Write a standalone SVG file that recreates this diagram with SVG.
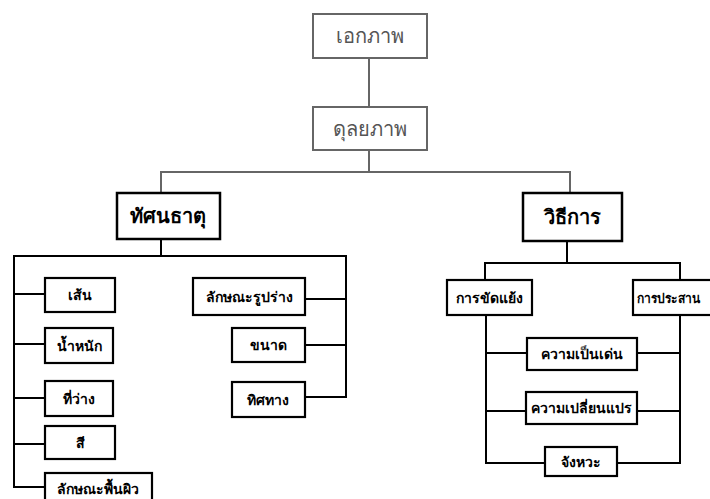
<svg xmlns="http://www.w3.org/2000/svg" width="710" height="499" viewBox="0 0 710 499">
<style>
.top rect{fill:#fff;stroke:#666;stroke-width:2}
.top text{font-family:"Noto Sans",sans-serif;font-size:20px;fill:#555;text-anchor:middle}
.mid rect{fill:#fff;stroke:#000;stroke-width:2.5}
.mid text{font-family:"Noto Sans",sans-serif;font-size:20px;font-weight:bold;fill:#000;text-anchor:middle}
.leaf rect{fill:#fff;stroke:#000;stroke-width:2.2}
.leaf text{font-family:"Noto Sans",sans-serif;font-size:14px;font-weight:bold;fill:#000;text-anchor:middle}
.conn line,.conn polyline{stroke:#000;stroke-width:2;fill:none}
.conn .grey{stroke:#666}
</style>
<rect width="710" height="499" fill="#fff"/>
<g class="conn">
<line class="grey" x1="369" y1="58" x2="369" y2="107"/>
<line class="grey" x1="369" y1="150" x2="369" y2="172"/>
<polyline class="grey" points="161,193 161,172 570,172 570,193"/>
<line x1="161" y1="239" x2="161" y2="256"/>
<polyline points="45,294 14,294 14,256 346,256 346,397 305,397"/>
<polyline points="14,294 14,487 45,487"/>
<line x1="14" y1="344" x2="45" y2="344"/>
<line x1="14" y1="398" x2="45" y2="398"/>
<line x1="14" y1="444" x2="45" y2="444"/>
<line x1="305" y1="299" x2="346" y2="299"/>
<line x1="305" y1="345" x2="346" y2="345"/>
<line x1="567" y1="241" x2="567" y2="263"/>
<polyline points="485,280 485,263 680,263 680,280"/>
<polyline points="486,315 486,463 545,463"/>
<polyline points="680,315 680,463 617,463"/>
<line x1="486" y1="353" x2="527" y2="353"/>
<line x1="637" y1="353" x2="680" y2="353"/>
<line x1="486" y1="411" x2="526" y2="411"/>
<line x1="637" y1="411" x2="680" y2="411"/>
</g>
<g id="n-ekkaphap" class="top"><rect x="313" y="14" width="114" height="44"/><text x="370" y="43">เอกภาพ</text></g>
<g id="n-dulyaphap" class="top"><rect x="313" y="107" width="114" height="43"/><text x="370" y="136">ดุลยภาพ</text></g>
<g id="n-thatsanathat" class="mid"><rect x="117" y="193" width="103" height="46"/><text x="168" y="223">ทัศนธาตุ</text></g>
<g id="n-withikan" class="mid"><rect x="523" y="193" width="99" height="48"/><text x="572" y="224">วิธีการ</text></g>
<g id="n-sen" class="leaf"><rect x="45" y="278" width="70" height="34"/><text x="80" y="300">เส้น</text></g>
<g id="n-namnak" class="leaf"><rect x="45" y="328" width="68" height="35"/><text x="79" y="351">น้ำหนัก</text></g>
<g id="n-thiwang" class="leaf"><rect x="45" y="381" width="68" height="35"/><text x="79" y="404">ที่ว่าง</text></g>
<g id="n-si" class="leaf"><rect x="45" y="426" width="70" height="33"/><text x="80" y="448">สี</text></g>
<g id="n-phiw" class="leaf"><rect x="45" y="473" width="107" height="30"/><text x="98" y="494">ลักษณะพื้นผิว</text></g>
<g id="n-rupsang" class="leaf"><rect x="193" y="278" width="112" height="37"/><text x="249" y="302">ลักษณะรูปร่าง</text></g>
<g id="n-khanat" class="leaf"><rect x="232" y="328" width="73" height="34"/><text x="268" y="350">ขนาด</text></g>
<g id="n-thitthang" class="leaf"><rect x="232" y="382" width="73" height="35"/><text x="268" y="405">ทิศทาง</text></g>
<g id="n-khatyaeng" class="leaf"><rect x="447" y="280" width="85" height="35"/><text x="489" y="303">การขัดแย้ง</text></g>
<g id="n-prasan" class="leaf"><rect x="633" y="280" width="90" height="35"/><text x="637" y="303" style="text-anchor:start;font-size:13px" textLength="63" lengthAdjust="spacingAndGlyphs">การประสาน</text></g>
<g id="n-pendon" class="leaf"><rect x="527" y="338" width="110" height="32"/><text x="582" y="359">ความเป็นเด่น</text></g>
<g id="n-plianplae" class="leaf"><rect x="526" y="392" width="111" height="32"/><text x="581" y="413">ความเปลี่ยนแปร</text></g>
<g id="n-changwa" class="leaf"><rect x="545" y="447" width="72" height="29"/><text x="581" y="467">จังหวะ</text></g>
</svg>
